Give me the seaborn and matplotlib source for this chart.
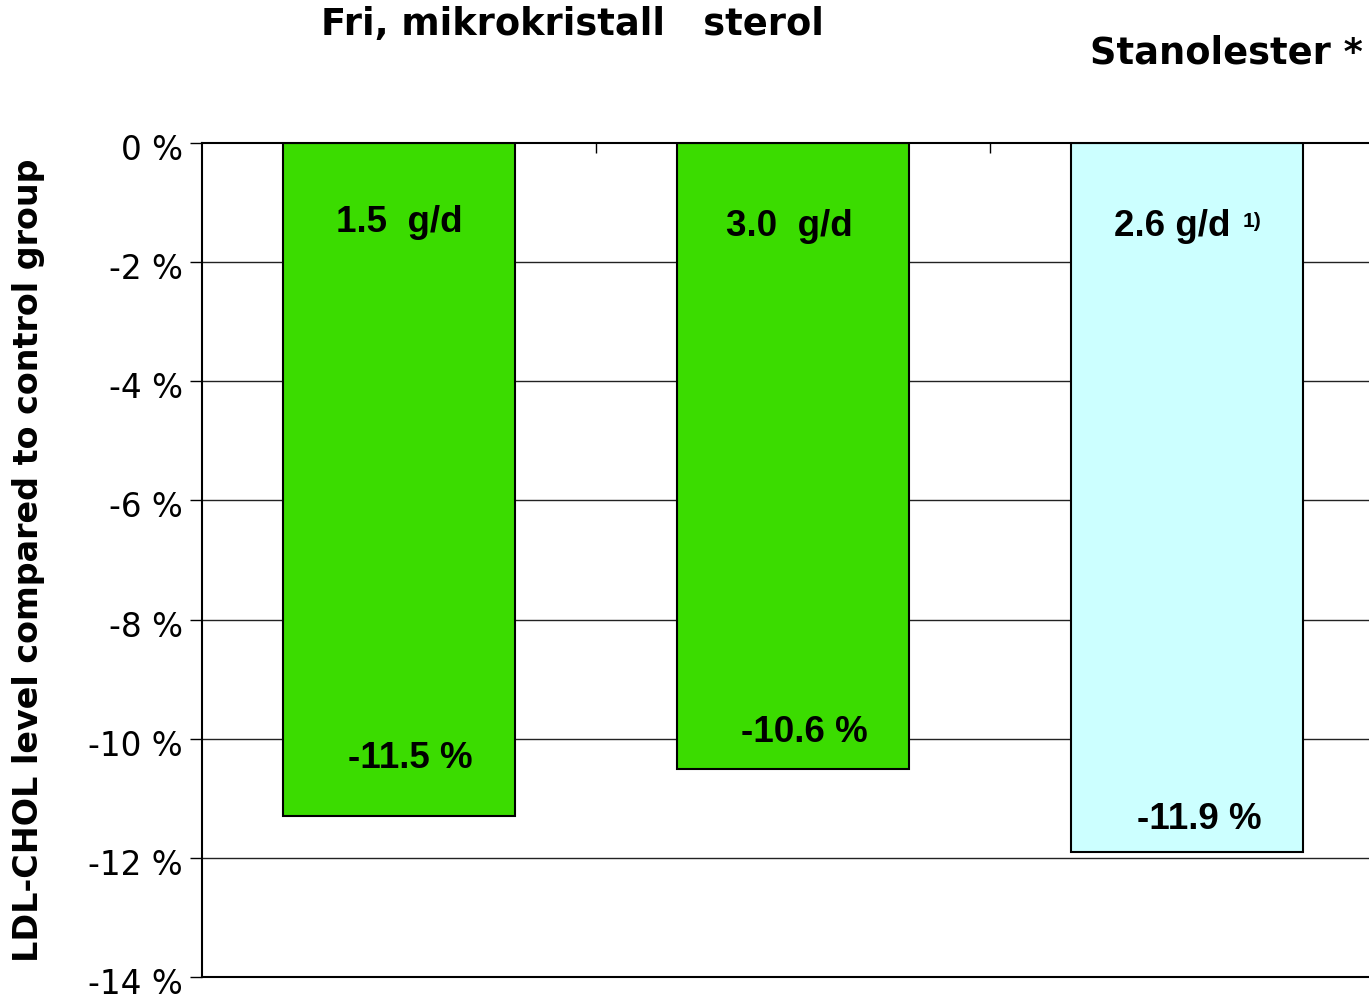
import numpy as np
import pandas as pd
import seaborn as sns
import matplotlib.pyplot as plt
import matplotlib.transforms as mtrans

sns.set_style("white")
plt.rcParams['font.family'] = ['DejaVu Sans']
plt.rcParams['text.color'] = 'black'
plt.rcParams['axes.labelcolor'] = 'black'
plt.rcParams['xtick.color'] = 'black'
plt.rcParams['ytick.color'] = 'black'

#%% data
groups = ["1.5 g/d", "3.0 g/d", "2.6 g/d"]
ldl_change = [-11.3, -10.5, -11.9]          # bar heights as drawn
value_labels = ["-11.5 %", "-10.6 %", "-11.9 %"]
dose_labels = ["1.5  g/d", "3.0  g/d", "2.6 g/d"]
bar_colors = ["#3BDC00", "#3BDC00", "#CCFFFF"]
yticks = [0, -2, -4, -6, -8, -10, -12, -14]

df = pd.DataFrame({"group": groups, "ldl": ldl_change})

#%% figure
fig = plt.figure(figsize=(13.69, 9.99), dpi=100)
ax = fig.add_axes([202 / 1369, 22 / 999, 1182 / 1369, 834 / 999])

for t in yticks[1:-1]:
    ax.axhline(t, color="#222222", lw=1.0, zorder=0)

sns.barplot(data=df, x="group", y="ldl", hue="group", palette=bar_colors,
            legend=False, width=0.59, edgecolor="black", linewidth=1.5,
            saturation=1, ax=ax, zorder=2)

ax.set_ylim(-14, 0)
ax.set_xlim(-0.5, 2.5)
ax.set_yticks(yticks)
ax.set_yticklabels([f"{t} %" for t in yticks], fontsize=23.5)
ax.set_xlabel("")
ax.set_ylabel("LDL-CHOL level compared to control group", fontsize=24,
              fontweight="bold")
ax.yaxis.set_label_coords(-0.1328, 0.5)

ax.xaxis.tick_top()
ax.set_xticks([0.5, 1.5])
ax.set_xticklabels([])
ax.tick_params(axis="x", direction="in", length=7.5, width=1, color="black")
ax.tick_params(axis="y", direction="out", length=9, width=1, color="black",
               left=True, pad=5)

# tick labels sit a little below their ticks in the original
shift = mtrans.ScaledTranslation(0, -4 / 100, fig.dpi_scale_trans)
for lab in ax.get_yticklabels():
    lab.set_transform(lab.get_transform() + shift)

for s in ["left", "top", "bottom"]:
    ax.spines[s].set_color("black")
    ax.spines[s].set_linewidth(1.5)
ax.spines["right"].set_visible(False)

# labels inside the bars
dose_pos = [(0.0, -1.33), (0.99, -1.41), (1.963, -1.41)]
value_pos = [(0.028, -10.33), (1.03, -9.9), (2.03, -11.35)]
for (x, y), txt in zip(dose_pos, dose_labels):
    ax.text(x, y, txt, ha="center", va="center", fontsize=26.5,
            fontweight="bold", family="Liberation Sans", zorder=3)
ax.text(2.142, -1.31, "1)", ha="left", va="center", fontsize=15,
        fontweight="bold", family="Liberation Sans", zorder=3)
for (x, y), txt in zip(value_pos, value_labels):
    ax.text(x, y, txt, ha="center", va="center", fontsize=26.5,
            fontweight="bold", family="Liberation Sans", zorder=3)

# group headings
fig.text(572 / 1369, 1 - 24 / 999, "Fri, mikrokristall   sterol",
         ha="center", va="center", fontsize=26.5, fontweight="bold")
fig.text(1226 / 1369, 1 - 53 / 999, "Stanolester *",
         ha="center", va="center", fontsize=26.5, fontweight="bold")

fig.savefig("out.png", dpi=100)
